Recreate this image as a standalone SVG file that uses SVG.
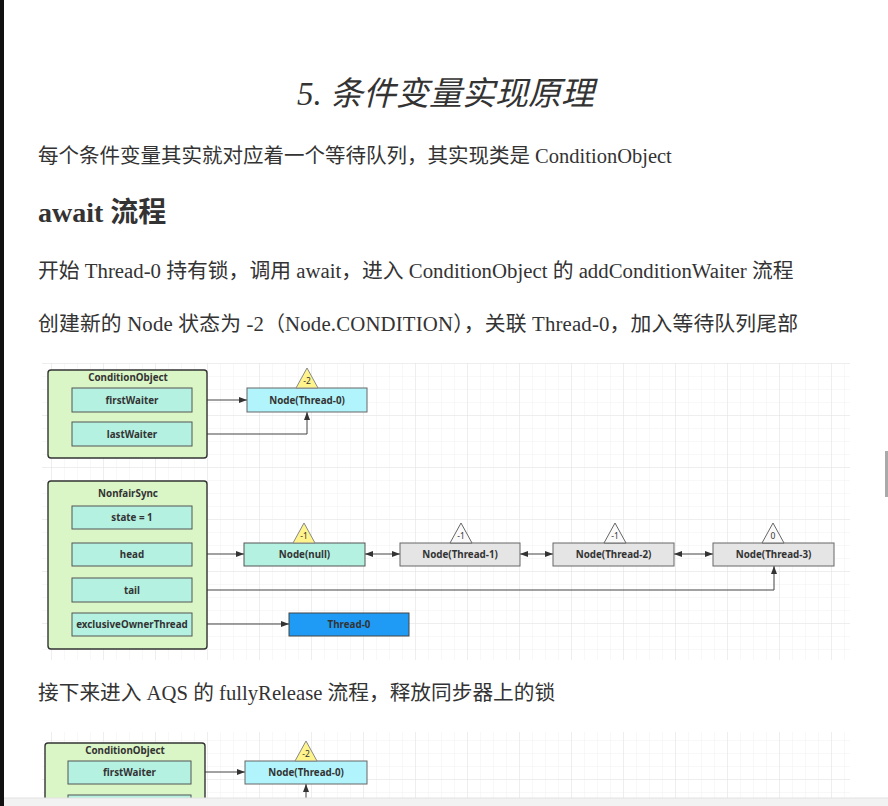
<svg xmlns="http://www.w3.org/2000/svg" width="888" height="806" viewBox="0 0 888 806">
<style>
.body{font-family:"Liberation Serif","Noto Sans CJK SC",serif;fill:#333;}
.box{font-family:"Noto Sans","Open Sans",sans-serif;font-weight:bold;font-size:9.8px;fill:#333;text-anchor:middle;}
.tri{font-family:"Noto Sans","Open Sans",sans-serif;font-size:8.5px;fill:#333;text-anchor:middle;}
.cont{fill:#daf5c6;stroke:#333;stroke-width:1.4;}
.field{fill:#b4f1e1;stroke:#555;stroke-width:1;}
.cyan{fill:#b2f4fb;stroke:#666;stroke-width:1;}
.gray{fill:#e5e5e5;stroke:#666;stroke-width:1;}
.blue{fill:#1f9bf5;stroke:#444;stroke-width:1;}
.ytri{fill:#fff38c;stroke:#888;stroke-width:1;}
.wtri{fill:#fafafa;stroke:#666;stroke-width:1;}
.conn{fill:none;stroke:#444;stroke-width:1;}
</style>
<defs>
<pattern id="minor" width="13" height="13" patternUnits="userSpaceOnUse">
<path d="M13,0 V13 M0,13 H13" fill="none" stroke="#f1f1f1" stroke-width="1"/>
</pattern>
<pattern id="major" width="52" height="52" patternUnits="userSpaceOnUse">
<rect width="52" height="52" fill="url(#minor)"/>
<path d="M52,0 V52 M0,52 H52" fill="none" stroke="#e4e4e4" stroke-width="1"/>
</pattern>
<marker id="ah" viewBox="0 0 8 6" markerWidth="8" markerHeight="6" refX="8" refY="3" orient="auto-start-reverse" markerUnits="userSpaceOnUse">
<path d="M0,0 L8,3 L0,6 z" fill="#333"/>
</marker>
</defs>
<rect width="888" height="806" fill="#fff"/>
<rect x="0" y="0" width="4" height="806" fill="#111"/>
<rect x="885" y="451" width="3" height="46" fill="#aaa"/>

<g id="texts">
<text class="body" x="297" y="105" font-size="33" font-style="italic">5. 条件变量实现原理</text>
<text class="body" x="38" y="163" font-size="20.5">每个条件变量其实就对应着一个等待队列，其实现类是 ConditionObject</text>
<text class="body" x="38" y="222" font-size="28" font-weight="bold" fill="#222">await 流程</text>
<text class="body" x="38" y="278" font-size="20.8">开始 Thread-0 持有锁，调用 await，进入 ConditionObject 的 addConditionWaiter 流程</text>
<text class="body" x="38" y="331" font-size="20.8" textLength="760" lengthAdjust="spacing">创建新的 Node 状态为 -2（Node.CONDITION），关联 Thread-0，加入等待队列尾部</text>
<text class="body" x="38" y="700" font-size="20.7">接下来进入 AQS 的 fullyRelease 流程，释放同步器上的锁</text>
</g>

<rect x="42" y="363" width="808" height="297" fill="url(#major)"/>
<rect x="42" y="732" width="808" height="74" fill="url(#major)"/>

<g id="connectors">
<path class="conn" d="M192,400 H247" marker-end="url(#ah)"/>
<path class="conn" d="M192,434 H307 V412" marker-end="url(#ah)"/>
<path class="conn" d="M192,554 H244" marker-end="url(#ah)"/>
<path class="conn" d="M365,554 H400" marker-start="url(#ah)" marker-end="url(#ah)"/>
<path class="conn" d="M520,554 H553" marker-start="url(#ah)" marker-end="url(#ah)"/>
<path class="conn" d="M674,554 H713" marker-start="url(#ah)" marker-end="url(#ah)"/>
<path class="conn" d="M192,590 H774 V566" marker-start="url(#ah)" marker-end="url(#ah)"/>
<path class="conn" d="M192,624 H289" marker-end="url(#ah)"/>
<path class="conn" d="M191,772 H245" marker-end="url(#ah)"/>
<path class="conn" d="M306,806 V784" marker-end="url(#ah)"/>
</g>

<g id="conditionObject1">
<rect class="cont" x="48" y="370" width="159" height="88" rx="3"/>
<text class="box" x="128" y="381">ConditionObject</text>
<rect class="field" x="72" y="388" width="120" height="24"/>
<text class="box" x="132" y="403.5">firstWaiter</text>
<rect class="field" x="72" y="422" width="120" height="24"/>
<text class="box" x="132" y="437.5">lastWaiter</text>
</g>

<g id="nodeThread0a">
<rect class="cyan" x="247" y="388" width="120" height="24"/>
<text class="box" x="307" y="403.5">Node(Thread-0)</text>
<path class="ytri" d="M307,368 L318,388 L296,388 z"/>
<text class="tri" x="307" y="384">-2</text>
</g>

<g id="nonfairSync">
<rect class="cont" x="48" y="481" width="159" height="168" rx="3"/>
<text class="box" x="128" y="497">NonfairSync</text>
<rect class="field" x="72" y="506" width="120" height="23"/>
<text class="box" x="132" y="521">state = 1</text>
<rect class="field" x="72" y="543" width="120" height="23"/>
<text class="box" x="132" y="558">head</text>
<rect class="field" x="72" y="578" width="120" height="24"/>
<text class="box" x="132" y="593.5">tail</text>
<rect class="field" x="72" y="613" width="120" height="23"/>
<text class="box" x="132" y="628">exclusiveOwnerThread</text>
</g>

<g id="nodeNull">
<rect class="field" x="244" y="543" width="121" height="23" stroke="#777"/>
<text class="box" x="304.5" y="558">Node(null)</text>
<path class="ytri" d="M304,523 L315,543 L293,543 z"/>
<text class="tri" x="304" y="539">-1</text>
</g>

<g id="nodeThread1">
<rect class="gray" x="400" y="543" width="120" height="23"/>
<text class="box" x="460" y="558">Node(Thread-1)</text>
<path class="wtri" d="M461,523 L472,543 L450,543 z"/>
<text class="tri" x="461" y="539">-1</text>
</g>

<g id="nodeThread2">
<rect class="gray" x="553" y="543" width="121" height="23"/>
<text class="box" x="613.5" y="558">Node(Thread-2)</text>
<path class="wtri" d="M615,523 L626,543 L604,543 z"/>
<text class="tri" x="615" y="539">-1</text>
</g>

<g id="nodeThread3">
<rect class="gray" x="713" y="543" width="121" height="23"/>
<text class="box" x="773.5" y="558">Node(Thread-3)</text>
<path class="wtri" d="M773,523 L784,543 L762,543 z"/>
<text class="tri" x="773" y="539">0</text>
</g>

<g id="thread0">
<rect class="blue" x="289" y="613" width="120" height="23"/>
<text class="box" x="349" y="628">Thread-0</text>
</g>

<g id="conditionObject2">
<rect class="cont" x="45" y="743" width="160" height="70" rx="3"/>
<text class="box" x="125" y="753.5">ConditionObject</text>
<rect class="field" x="68" y="761" width="123" height="23"/>
<text class="box" x="129.5" y="776">firstWaiter</text>
<rect class="field" x="68" y="795" width="123" height="23"/>
</g>

<g id="nodeThread0b">
<rect class="cyan" x="245" y="761" width="122" height="23"/>
<text class="box" x="306" y="776">Node(Thread-0)</text>
<path class="ytri" d="M306,741 L317,761 L295,761 z"/>
<text class="tri" x="306" y="757">-2</text>
</g>

<rect x="4" y="798" width="884" height="8" fill="#f2f2f2"/>
<line x1="4" y1="798" x2="888" y2="798" stroke="#e2e2e2" stroke-width="1"/>
</svg>
